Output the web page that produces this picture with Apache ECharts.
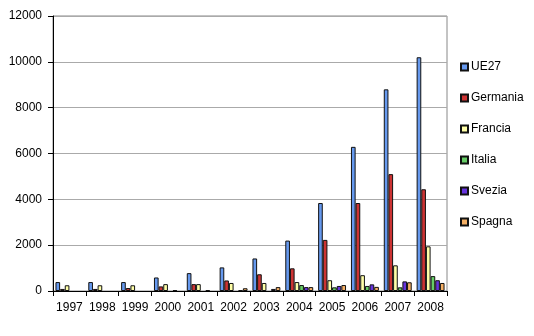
<!DOCTYPE html>
<html>
<head>
<meta charset="utf-8">
<script src="https://cdn.jsdelivr.net/npm/echarts@6/dist/echarts.min.js"></script>
<style>
  html, body { margin: 0; padding: 0; background: #fff; }
  #chart { width: 534px; height: 336px; }
</style>
</head>
<body>
<div id="chart"></div>
<script>
// Years on the category axis
const years = ['1997', '1998', '1999', '2000', '2001', '2002', '2003', '2004', '2005', '2006', '2007', '2008'];

// Values per country (null = no bar)
const ue27     = [390, 390, 390, 590, 780, 1030, 1420, 2200, 3840, 6290, 8800, 10200];
const germania = [90, 90, 130, 200, 300, 460, 730, 990, 2230, 3840, 5100, 4440];
const francia  = [250, 250, 250, 300, 300, 350, 350, 390, 470, 690, 1120, 1950];
const italia   = [null, null, null, null, null, null, null, 260, 160, 220, 160, 650];
const svezia   = [null, null, null, 35, 40, 30, 90, 170, 220, 290, 420, 470];
const spagna   = [null, null, null, null, null, 120, 170, 170, 260, 180, 380, 350];

const seriesDefs = [
  { name: 'UE27', data: ue27, color: '#6699EE' },
  { name: 'Germania', data: germania, color: '#CC3333' },
  { name: 'Francia', data: francia, color: '#FFFFA8' },
  { name: 'Italia', data: italia, color: '#66CC66' },
  { name: 'Svezia', data: svezia, color: '#6633DD' },
  { name: 'Spagna', data: spagna, color: '#F5B066' }
];

const font = '"Liberation Sans", Arial, sans-serif';

const chart = echarts.init(document.getElementById('chart'), null, { renderer: 'canvas' });
chart.setOption({
  backgroundColor: '#ffffff',
  animation: false,
  textStyle: { fontFamily: font },
  grid: {
    left: 53, right: 87, top: 16, bottom: 45,
    show: true, borderColor: '#888888', borderWidth: 1
  },
  legend: {
    orient: 'vertical',
    left: 460, top: 61,
    padding: 0,
    icon: 'rect',
    itemWidth: 7, itemHeight: 7,
    itemGap: 19,
    textStyle: { fontFamily: font, fontSize: 12, color: '#000', padding: [0, 0, 0, -2] },
    data: seriesDefs.map(s => s.name)
  },
  xAxis: {
    type: 'category',
    data: years,
    axisLine: { lineStyle: { color: '#000', width: 1 } },
    axisTick: { show: true, length: 5, lineStyle: { color: '#000' } },
    axisLabel: { color: '#000', fontSize: 12, margin: 11, interval: 0, fontFamily: font }
  },
  yAxis: {
    type: 'value',
    min: 0, max: 12000, interval: 2000,
    axisLine: { show: true, lineStyle: { color: '#000', width: 1 } },
    axisTick: { show: true, length: 5, lineStyle: { color: '#000' } },
    axisLabel: {
      color: '#000', fontSize: 12, margin: 11, fontFamily: font,
      formatter: v => String(v)
    },
    splitLine: { show: true, lineStyle: { color: '#AAAAAA', width: 1 } }
  },
  series: seriesDefs.map(s => ({
    name: s.name,
    type: 'bar',
    data: s.data,
    barGap: '0%',
    barCategoryGap: '15%',
    itemStyle: { color: s.color, borderColor: '#111', borderWidth: 1 }
  }))
});
</script>
</body>
</html>
